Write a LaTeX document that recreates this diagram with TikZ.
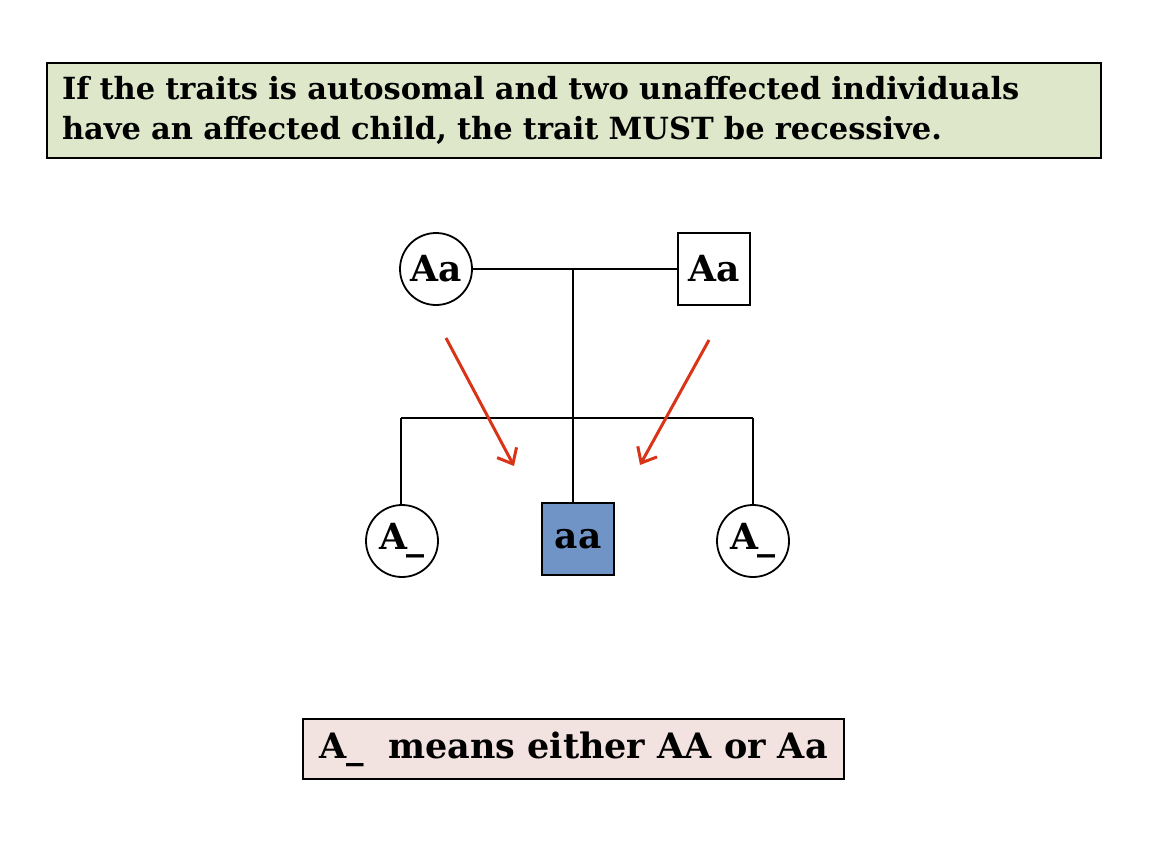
\documentclass[tikz,border=0pt]{standalone}
\usepackage{fontspec}
\setmainfont{DejaVu Serif}
\usetikzlibrary{arrows.meta}
\definecolor{rulegreen}{HTML}{DFE7CA}
\definecolor{notepink}{HTML}{F2E2E0}
\definecolor{affblue}{HTML}{7094C6}
\definecolor{arrowred}{HTML}{D93418}
\begin{document}
\begin{tikzpicture}[x=1pt,y=-1pt,
  line width=1.8pt,
  female/.style={circle,draw,fill=white,minimum size=72pt,inner sep=0pt,font=\fontsize{36}{36}\selectfont\bfseries},
  male/.style={rectangle,draw,fill=white,minimum size=72pt,inner sep=0pt,font=\fontsize{36}{36}\selectfont\bfseries},
  textbox/.style={rectangle,draw,line width=1.6pt,inner sep=0pt},
  inherit/.style={arrowred,line width=3pt,-{Straight Barb[length=13pt,width=22pt,line width=3pt]}}]

  \useasboundingbox (0,0) rectangle (1158,862);

  \node[textbox,fill=rulegreen,minimum width=1054pt,minimum height=95pt,
        text width=1024pt,align=left,font=\fontsize{30.5}{40}\selectfont\bfseries] (rule) at (574,110.5)
    {If the traits is autosomal and two unaffected individuals\\have an affected child, the trait MUST be recessive.};

  \node[female] (mother) at (436,269) {Aa};
  \node[male] (father) at (714,269) {Aa};
  \node[female] (child1) at (402,541) {A\_};
  \node[male,fill=affblue] (child2) at (578,539) {aa};
  \node[female] (child3) at (753,541) {A\_};

  \coordinate (mate) at (573,269);
  \coordinate (sibl) at (401,418);
  \coordinate (sibm) at (573,418);
  \coordinate (sibr) at (753,418);

  \path[draw]
   (mother) -- (father)
   (mate) -- (sibm)
   (sibl) -- (sibr)
   (sibl) -- (child1.north -| sibl)
   (sibm) -- (child2.north -| sibm)
   (sibr) -- (child3);

  \coordinate (arrL1) at (446,338);
  \coordinate (arrL2) at (514,466);
  \coordinate (arrR1) at (709,340);
  \coordinate (arrR2) at (640,465);
  \draw[inherit] (arrL1) -- (arrL2);
  \draw[inherit] (arrR1) -- (arrR2);

  \node[textbox,fill=notepink,minimum width=541pt,minimum height=60pt,
        font=\fontsize{35}{35}\selectfont\bfseries] (note) at (573.5,749)
    {A\_\ \ means either AA or Aa};
\end{tikzpicture}
\end{document}
